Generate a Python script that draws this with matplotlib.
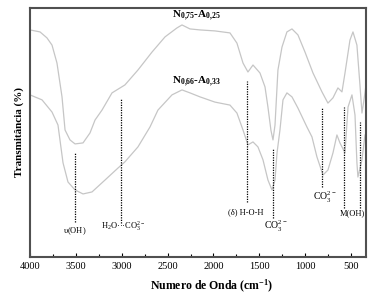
import matplotlib
matplotlib.use("Agg")
from matplotlib import pyplot as plt
from matplotlib.ticker import MultipleLocator

plt.rcParams['font.family'] = ['Liberation Serif', 'DejaVu Serif']
plt.rcParams['mathtext.fontset'] = 'custom'
plt.rcParams['mathtext.rm'] = 'Liberation Serif'
plt.rcParams['mathtext.bf'] = 'Liberation Serif:bold'
plt.rcParams['mathtext.default'] = 'rm'

# N0,75-A0,25 (upper curve)
wn_a = [4000, 3891, 3815, 3760, 3706, 3651, 3618, 3564, 3509, 3422, 3346, 3291,
        3215, 3106, 2965, 2823, 2670, 2528, 2398, 2343, 2256, 2147, 1984, 1820,
        1744, 1678, 1624, 1569, 1493, 1438, 1406, 1373, 1351, 1329, 1297, 1253,
        1199, 1144, 1079, 1002, 915, 817, 752, 697, 643, 599, 566, 512, 479,
        436, 403, 381, 359, 337]
tr_a = [91.2, 90.4, 88.0, 85.1, 77.9, 64.3, 51.0, 47.0, 45.4, 45.8, 49.8, 55.0,
        59.0, 65.9, 69.1, 75.1, 82.3, 88.4, 92.0, 93.2, 91.6, 91.2, 90.8, 90.0,
        85.9, 77.9, 74.3, 77.1, 73.9, 68.3, 60.2, 50.8, 47.0, 53.0, 75.1, 84.3,
        90.4, 91.6, 89.2, 82.3, 73.9, 66.3, 61.8, 63.9, 67.9, 66.3, 73.9, 87.1,
        90.4, 85.1, 69.1, 57.8, 63.1, 69.1]

# N0,66-A0,33 (lower curve)
wn_b = [4000, 3869, 3760, 3695, 3640, 3586, 3509, 3422, 3324, 3182, 3041, 2965,
        2823, 2692, 2605, 2452, 2343, 2256, 2147, 1984, 1820, 1744, 1678, 1624,
        1569, 1515, 1460, 1406, 1362, 1329, 1307, 1275, 1242, 1199, 1144, 1079,
        981, 926, 872, 806, 752, 697, 654, 621, 566, 533, 490, 457, 436, 425,
        381, 348]
tr_b = [65.1, 63.1, 58.2, 53.0, 37.8, 30.1, 26.9, 25.3, 26.1, 30.9, 35.7, 38.2,
        44.2, 52.2, 59.0, 65.1, 67.1, 65.9, 64.3, 62.2, 61.0, 57.8, 51.0, 45.0,
        46.2, 44.2, 39.0, 30.9, 26.9, 30.9, 41.8, 51.0, 63.1, 65.9, 64.3, 59.8,
        52.2, 48.2, 40.2, 32.9, 34.9, 41.8, 49.0, 45.8, 41.8, 60.2, 65.1, 57.0,
        37.8, 32.1, 39.0, 49.0]

# band markers: position, top, bottom
band_x = [3509, 3008, 1635, 1351, 817, 577, 403]
band_top = [41.8, 63.5, 70.7, 43.8, 59.8, 60.2, 54.2]
band_bot = [14.1, 13.7, 22.1, 15.7, 28.1, 19.7, 19.7]

band_labels = [r"$\upsilon$(OH)", "H$_2$O···CO$_3^{2-}$", "(δ) H-O-H",
               "CO$_3^{2-}$", "CO$_3^{2-}$", "M(OH)"]
label_x = [3509, 2986, 1645, 1318, 784, 490]
label_y = [10.4, 12.4, 18.1, 12.4, 23.7, 17.7]
label_size = [6, 6, 6, 7, 7, 6]

fig = plt.figure(figsize=(3.75, 2.97), dpi=100)
ax = fig.add_axes([0.08, 0.135, 0.896, 0.838])

ax.plot(wn_a, tr_a, color='#c6c6c6', lw=0.9)
ax.plot(wn_b, tr_b, color='#c6c6c6', lw=0.9)

for x, t, b in zip(band_x, band_top, band_bot):
    ax.plot([x, x], [b, t], color='black', lw=0.9, ls=(0, (1, 1)))

for s, x, y, fs in zip(band_labels, label_x, label_y, label_size):
    ax.text(x, y, s, ha='center', va='center', fontsize=fs)

ax.text(2180, 96.8, r"N$_\mathbf{0{,}75}$-A$_\mathbf{0{,}25}$", ha='center', va='center',
        fontsize=8, fontweight='bold')
ax.text(2180, 70.3, r"N$_\mathbf{0{,}66}$-A$_\mathbf{0{,}33}$", ha='center', va='center',
        fontsize=8, fontweight='bold')

ax.set_xlim(4000, 337)
ax.set_ylim(0, 100)
ax.xaxis.set_major_locator(MultipleLocator(500))
ax.xaxis.set_minor_locator(MultipleLocator(250))
ax.tick_params(axis='x', which='both', direction='in', labelsize=7.5, pad=4)
ax.tick_params(axis='x', which='major', length=3, width=0.8)
ax.tick_params(axis='x', which='minor', length=2, width=0.8)
ax.set_yticks([])
for sp in ax.spines.values():
    sp.set_color('#505050')
    sp.set_linewidth(1.5)

ax.set_xlabel(r"Numero de Onda (cm$^\mathbf{-1}$)", fontsize=8.5, fontweight='bold')
ax.xaxis.set_label_coords(0.54, -0.085)
ax.set_ylabel("Transmitância (%)", fontsize=8, fontweight='bold', labelpad=4)

fig.savefig('out.png', dpi=100)
